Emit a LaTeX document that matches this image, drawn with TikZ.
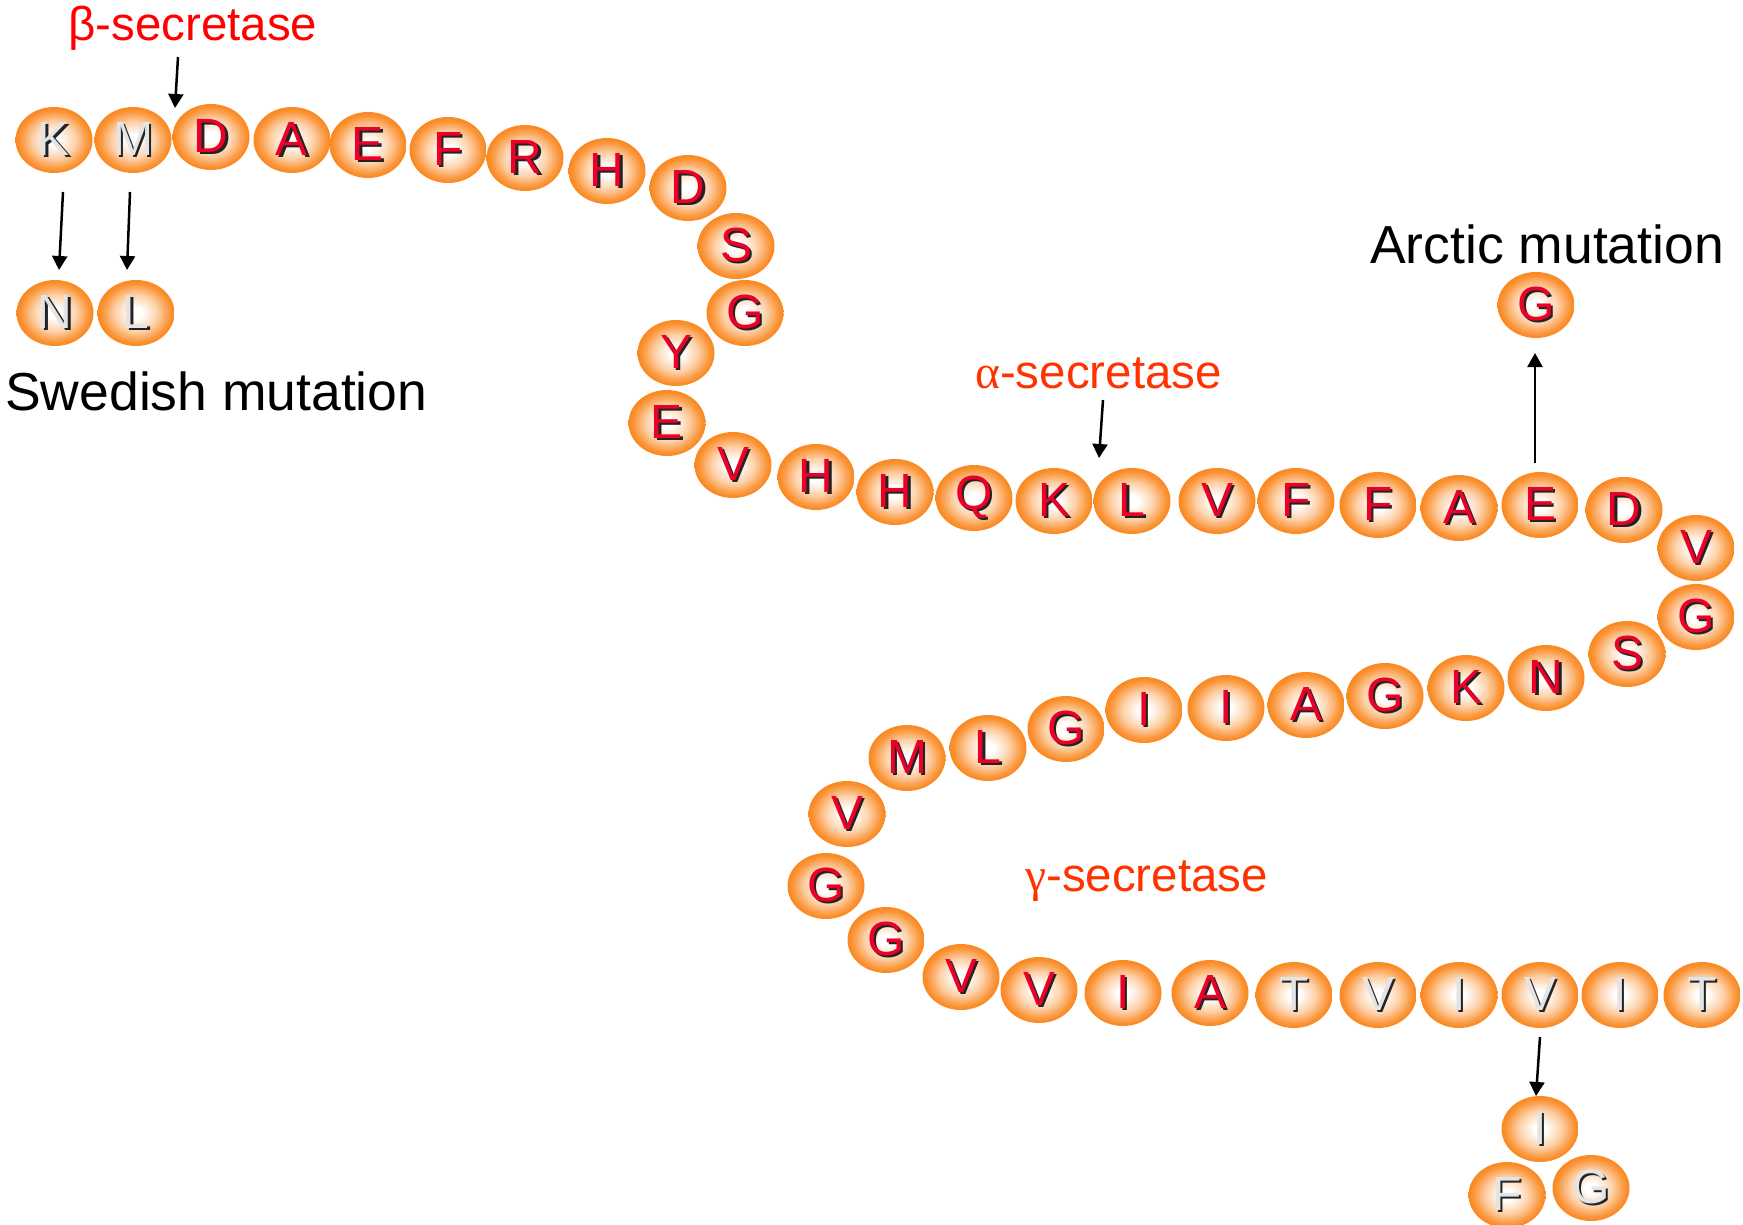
\documentclass[tikz,border=0pt]{standalone}
\usepackage{fontspec}
\setmainfont{Liberation Sans}
\newfontfamily\greekserif{Liberation Serif}
\usetikzlibrary{shapes.geometric, arrows.meta}
\definecolor{beadorange}{RGB}{250,138,36}
\colorlet{beadmid}{beadorange!40!white}
\colorlet{beadrim}{beadorange!85!white}
\definecolor{letred}{RGB}{235,0,40}
\definecolor{letgrey}{RGB}{228,228,228}
\definecolor{letshadow}{RGB}{35,35,35}
\definecolor{betared}{RGB}{255,0,0}
\definecolor{secorange}{RGB}{255,51,0}
\pgfdeclareradialshading{beadshade}{\pgfpoint{0bp}{0bp}}{color(0bp)=(white); color(4bp)=(white); color(14bp)=(beadmid); color(21bp)=(beadrim); color(24bp)=(beadorange); color(50bp)=(beadorange)}
\newcommand{\res}[1]{\rlap{\kern2.4pt\raisebox{-2.4pt}{\color{letshadow}#1}}#1}
\tikzstyle{bead}=[ellipse, shade, shading=beadshade, minimum width=77pt, minimum height=66pt, inner sep=0pt, font=\fontsize{48}{48}\selectfont]
\tikzstyle{abeta}=[bead, text=letred]
\tikzstyle{flank}=[bead, text=letgrey]
\tikzstyle{cut}=[-{Triangle[length=14pt, width=15pt]}, line width=2.5pt]
\tikzstyle{lbl}=[anchor=base west, inner sep=0pt, font=\fontsize{53.5}{53.5}\selectfont]
\tikzstyle{enz}=[anchor=base west, inner sep=0pt, font=\fontsize{47.5}{47.5}\selectfont]

\begin{document}
\begin{tikzpicture}[x=1pt, y=-1pt]
    \useasboundingbox (0,0) rectangle (1743,1225);
    % arrow ends
    \coordinate (bsa) at (178,57);
    \coordinate (bsb) at (175,108);
    \coordinate (sw1a) at (63,192);
    \coordinate (sw1b) at (59,270);
    \coordinate (sw2a) at (130,192);
    \coordinate (sw2b) at (127,270);
    \coordinate (asa) at (1103,400);
    \coordinate (asb) at (1099,458);
    \coordinate (arca) at (1535,463);
    \coordinate (arcb) at (1535,353);
    \coordinate (gma) at (1540,1037);
    \coordinate (gmb) at (1536,1096);
    \draw[cut] (bsa) -- (bsb);
    \draw[cut] (sw1a) -- (sw1b);
    \draw[cut] (sw2a) -- (sw2b);
    \draw[cut] (asa) -- (asb);
    \draw[cut] (arca) -- (arcb);
    \draw[cut] (gma) -- (gmb);
    % chain
    \node[flank] (bm2) at (54,140) {\res{K}};
    \node[flank] (bm1) at (133,140) {\res{M}};
    \node[abeta] (b1) at (211,137) {\res{D}};
    \node[abeta] (b2) at (292,140) {\res{A}};
    \node[abeta] (b3) at (368,145) {\res{E}};
    \node[abeta] (b4) at (448,150) {\res{F}};
    \node[abeta] (b5) at (525,158) {\res{R}};
    \node[abeta] (b6) at (607,171) {\res{H}};
    \node[abeta] (b7) at (688,188) {\res{D}};
    \node[abeta] (b8) at (736,246) {\res{S}};
    \node[abeta] (b9) at (745,313) {\res{G}};
    \node[abeta] (b10) at (676,353) {\res{Y}};
    \node[abeta] (b11) at (667,423) {\res{E}};
    \node[abeta] (b12) at (733,465) {\res{V}};
    \node[abeta] (b13) at (816,477) {\res{H}};
    \node[abeta] (b14) at (895,492) {\res{H}};
    \node[abeta] (b15) at (974,498) {\res{Q}};
    \node[abeta] (b16) at (1054,501) {\res{K}};
    \node[abeta] (b17) at (1132,501) {\res{L}};
    \node[abeta] (b18) at (1217,501) {\res{V}};
    \node[abeta] (b19) at (1296,501) {\res{F}};
    \node[abeta] (b20) at (1378,505) {\res{F}};
    \node[abeta] (b21) at (1459,508) {\res{A}};
    \node[abeta] (b22) at (1540,505) {\res{E}};
    \node[abeta] (b23) at (1624,510) {\res{D}};
    \node[abeta] (b24) at (1696,548) {\res{V}};
    \node[abeta] (b25) at (1696,617) {\res{G}};
    \node[abeta] (b26) at (1627,654) {\res{S}};
    \node[abeta] (b27) at (1546,678) {\res{N}};
    \node[abeta] (b28) at (1466,688) {\res{K}};
    \node[abeta] (b29) at (1385,696) {\res{G}};
    \node[abeta] (b30) at (1306,705) {\res{A}};
    \node[abeta] (b31) at (1226,708) {\res{I}};
    \node[abeta] (b32) at (1144,710) {\res{I}};
    \node[abeta] (b33) at (1066,729) {\res{G}};
    \node[abeta] (b34) at (988,748) {\res{L}};
    \node[abeta] (b35) at (907,758) {\res{M}};
    \node[abeta] (b36) at (847,814) {\res{V}};
    \node[abeta] (b37) at (826,886) {\res{G}};
    \node[abeta] (b38) at (886,940) {\res{G}};
    \node[abeta] (b39) at (961,977) {\res{V}};
    \node[abeta] (b40) at (1039,990) {\res{V}};
    \node[abeta] (b41) at (1123,993) {\res{I}};
    \node[abeta] (b42) at (1210,993) {\res{A}};
    \node[flank] (b43) at (1294,995) {\res{T}};
    \node[flank] (b44) at (1378,995) {\res{V}};
    \node[flank] (b45) at (1459,995) {\res{I}};
    \node[flank] (b46) at (1540,995) {\res{V}};
    \node[flank] (b47) at (1620,995) {\res{I}};
    \node[flank] (b48) at (1702,995) {\res{T}};
    % mutants
    \node[flank] (swn) at (55,313) {\res{N}};
    \node[flank] (swl) at (136,313) {\res{L}};
    \node[abeta] (arc) at (1536,305) {\res{G}};
    \node[flank] (mi) at (1540,1129) {\res{I}};
    \node[flank] (mf) at (1507,1195) {\res{F}};
    \node[flank] (mg) at (1591,1188) {\res{G}};
    % labels
    \node[enz, text=betared] (bsec) at (68,41) {β-secretase};
    \node[enz, text=secorange] (asec) at (975,388) {{\greekserif α}-secretase};
    \node[enz, text=secorange] (gsec) at (1025,891) {{\greekserif γ}-secretase};
    \node[lbl] (swe) at (5,410) {Swedish mutation};
    \node[lbl] (arct) at (1370,263) {Arctic mutation};
\end{tikzpicture}
\end{document}
